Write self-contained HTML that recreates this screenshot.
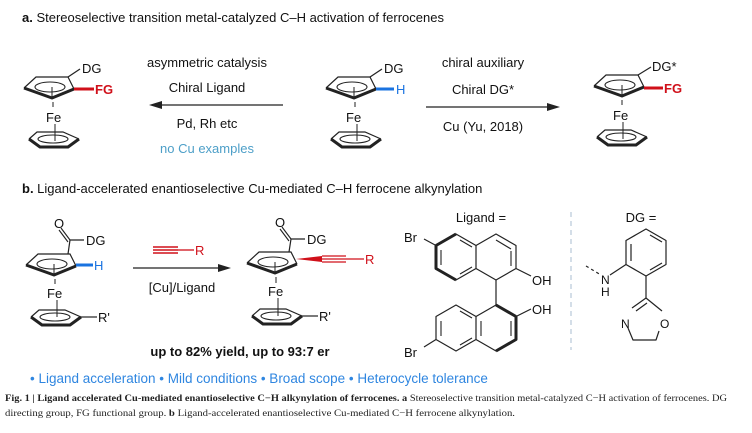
<!DOCTYPE html>
<html><head><meta charset="utf-8"><style>
html,body{margin:0;padding:0;background:#fff;}
svg{display:block;font-family:"Liberation Sans",sans-serif;}
</style></head><body>
<svg width="752" height="433" viewBox="0 0 752 433" xmlns="http://www.w3.org/2000/svg">
<defs>
<g id="cpt" fill="none" stroke="#222">
<path d="M-26,0 L-14,-11 L18,-11 L24,1" stroke-width="1.2"/>
<path d="M-26,0 L2,10 L24,1" stroke-width="3" stroke-linejoin="round"/>
<ellipse cx="0" cy="-1" rx="15" ry="5" stroke-width="1.1"/>
<path d="M2,-1 V9" stroke-width="1"/>
</g>
<g id="cpb" fill="none" stroke="#222">
<path d="M-21,0 L-13,-7 L13,-7 L29,0" stroke-width="1.2"/>
<path d="M-21,0 L-10,8 L18,8 L29,0" stroke-width="3" stroke-linejoin="round"/>
<ellipse cx="3" cy="0" rx="15" ry="4" stroke-width="1.1"/>
</g>
</defs>

<text x="22" y="22" font-size="13" fill="#111"><tspan font-weight="bold">a.</tspan> Stereoselective transition metal-catalyzed C–H activation of ferrocenes</text>

<!-- left ferrocene -->
<use href="#cpt" x="50" y="88"/>
<path d="M68,77 L80,69" stroke="#222" stroke-width="1.2"/>
<text x="82" y="73" font-size="13" fill="#111">DG</text>
<path d="M74,89 L94,89" stroke="#d0101a" stroke-width="3"/>
<text x="95" y="94" font-size="13" fill="#d0101a" font-weight="bold">FG</text>
<path d="M53,102 V107" stroke="#222"/>
<text x="46" y="122" font-size="13" fill="#111">Fe</text>
<path d="M55,124 V141" stroke="#222"/>
<use href="#cpb" x="50" y="139"/>

<!-- left arrow -->
<text x="207" y="67" font-size="13" text-anchor="middle" fill="#111">asymmetric catalysis</text>
<text x="207" y="92" font-size="13" text-anchor="middle" fill="#111">Chiral Ligand</text>
<path d="M283,105 H158" stroke="#222" stroke-width="1.3"/>
<path d="M149,105 L162,101 L162,109 Z" fill="#222"/>
<text x="207" y="128" font-size="13" text-anchor="middle" fill="#111">Pd, Rh etc</text>
<text x="207" y="153" font-size="13" text-anchor="middle" fill="#4d9fc8">no Cu examples</text>

<!-- middle ferrocene -->
<use href="#cpt" x="352" y="88"/>
<path d="M370,77 L382,69" stroke="#222" stroke-width="1.2"/>
<text x="384" y="73" font-size="13" fill="#111">DG</text>
<path d="M376,89 L394,89" stroke="#1a73e0" stroke-width="3"/>
<text x="396" y="94" font-size="13" fill="#1a73e0">H</text>
<path d="M355,102 V107" stroke="#222"/>
<text x="346" y="122" font-size="13" fill="#111">Fe</text>
<path d="M357,124 V141" stroke="#222"/>
<use href="#cpb" x="352" y="139"/>

<!-- right arrow -->
<text x="483" y="67" font-size="13" text-anchor="middle" fill="#111">chiral auxiliary</text>
<text x="483" y="94" font-size="13" text-anchor="middle" fill="#111">Chiral DG*</text>
<path d="M426,107 H550" stroke="#222" stroke-width="1.3"/>
<path d="M560,107 L547,103 L547,111 Z" fill="#222"/>
<text x="483" y="131" font-size="13" text-anchor="middle" fill="#111">Cu (Yu, 2018)</text>

<!-- right ferrocene -->
<use href="#cpt" x="620" y="86"/>
<path d="M638,75 L651,67" stroke="#222" stroke-width="1.2"/>
<text x="652" y="71" font-size="13" fill="#111">DG*</text>
<path d="M644,88 L663,88" stroke="#d0101a" stroke-width="3"/>
<text x="664" y="93" font-size="13" fill="#d0101a" font-weight="bold">FG</text>
<path d="M622,100 V105" stroke="#222"/>
<text x="613" y="120" font-size="13" fill="#111">Fe</text>
<path d="M623,122 V139" stroke="#222"/>
<use href="#cpb" x="618" y="137"/>

<text x="22" y="193" font-size="13" fill="#111"><tspan font-weight="bold">b.</tspan> Ligand-accelerated enantioselective Cu-mediated C–H ferrocene alkynylation</text>

<!-- b left ferrocene -->
<use href="#cpt" x="52" y="265"/>
<path d="M68,254 L70,240 L84,240" fill="none" stroke="#222" stroke-width="1.2"/>
<path d="M70,240 L61,228 M68,242 L59,230" stroke="#222" stroke-width="1.1"/>
<text x="54" y="228" font-size="13" fill="#111">O</text>
<text x="86" y="245" font-size="13" fill="#111">DG</text>
<path d="M76,265 L93,265" stroke="#1a73e0" stroke-width="3"/>
<text x="94" y="270" font-size="13" fill="#1a73e0">H</text>
<path d="M55,279 V284" stroke="#222"/>
<text x="47" y="298" font-size="13" fill="#111">Fe</text>
<path d="M57,300 V317" stroke="#222"/>
<use href="#cpb" x="52" y="317"/>
<path d="M81,317 H97" stroke="#222" stroke-width="1.2"/>
<text x="98" y="322" font-size="13" fill="#111">R'</text>

<!-- b arrow -->
<path d="M153,247 H178 M153,250 H178 M153,253 H178" stroke="#d0101a" stroke-width="1.4"/>
<path d="M178,250 H194" stroke="#d0101a" stroke-width="1.3"/>
<text x="195" y="255" font-size="13" fill="#d0101a">R</text>
<path d="M133,268 H222" stroke="#222" stroke-width="1.3"/>
<path d="M231,268 L218,264 L218,272 Z" fill="#222"/>
<text x="182" y="292" font-size="13" text-anchor="middle" fill="#111">[Cu]/Ligand</text>

<!-- b product -->
<use href="#cpt" x="273" y="263"/>
<path d="M289,252 L291,239 L305,239" fill="none" stroke="#222" stroke-width="1.2"/>
<path d="M291,239 L282,227 M289,241 L280,229" stroke="#222" stroke-width="1.1"/>
<text x="275" y="227" font-size="13" fill="#111">O</text>
<text x="307" y="244" font-size="13" fill="#111">DG</text>
<path d="M296,259 L322,256 L322,262 Z" fill="#d0101a"/>
<path d="M322,256 H346 M322,259 H346 M322,262 H346" stroke="#d0101a" stroke-width="1.3"/>
<path d="M346,259 H364" stroke="#d0101a" stroke-width="1.3"/>
<text x="365" y="264" font-size="13" fill="#d0101a">R</text>
<path d="M276,277 V283" stroke="#222"/>
<text x="268" y="296" font-size="13" fill="#111">Fe</text>
<path d="M278,298 V316" stroke="#222"/>
<use href="#cpb" x="273" y="316"/>
<path d="M302,316 H318" stroke="#222" stroke-width="1.2"/>
<text x="319" y="321" font-size="13" fill="#111">R'</text>

<text x="240" y="356" font-size="13" font-weight="bold" text-anchor="middle" fill="#111">up to 82% yield, up to 93:7 er</text>

<!-- ligand -->
<text x="481" y="222" font-size="13" text-anchor="middle" fill="#111">Ligand =</text>
<g fill="none" stroke="#222" stroke-width="1.2" stroke-linejoin="round">
 <path d="M456,234 L476,245.5 L476,268.5 L456,280 L436,268.5 L436,245.5 Z"/>
 <path d="M476,245.5 L496,234 L516,245.5 L516,268.5 L496,280 L476,268.5"/>
 <path d="M436,245.5 L456,234 M436,245.5 L436,268.5 L456,280" stroke-width="3"/>
 <path d="M441,250 V265 M460,240 L472,247 M460,274 L472,267 M496,240 L511,249 M511,251 V266" stroke-width="1.1"/>
 <path d="M436,245.5 L424,239" />
 <path d="M516,268.5 L531,276"/>
 <path d="M496,280 V305"/>
 <path d="M456,305 L476,316.5 L476,339.5 L456,351 L436,339.5 L436,316.5 Z"/>
 <path d="M476,316.5 L496,305 L516,316.5 L516,339.5 L496,351 L476,339.5"/>
 <path d="M496,305 L516,316.5 M516,316.5 L516,339.5 L496,351" stroke-width="3"/>
 <path d="M441,321 V336 M460,311 L472,318 M460,345 L472,338 M481,321 V336 M511,321 V336" stroke-width="1.1"/>
 <path d="M436,339.5 L424,347"/>
 <path d="M516,316.5 L531,309"/>
</g>
<text x="404" y="242" font-size="13" fill="#111">Br</text>
<text x="532" y="285" font-size="13" fill="#111">OH</text>
<text x="532" y="314" font-size="13" fill="#111">OH</text>
<text x="404" y="357" font-size="13" fill="#111">Br</text>

<path d="M571,212 V350" stroke="#b8c8d8" stroke-width="1.2" stroke-dasharray="5,4"/>

<!-- DG -->
<text x="641" y="222" font-size="13" text-anchor="middle" fill="#111">DG =</text>
<g fill="none" stroke="#222" stroke-width="1.2" stroke-linejoin="round">
 <path d="M646,229 L666,240.5 L666,264.5 L646,276 L626,264.5 L626,240.5 Z"/>
 <path d="M631,244 V261 M650,235 L662,242 M650,270 L662,263"/>
 <path d="M626,264.5 L610,275"/>
 <path d="M586,266 L601,275" stroke-dasharray="3,3"/>
 <path d="M646,276 V298"/>
 <path d="M646,298 L662,311 M659,331 L656,340 L633,340 L628,328 M632,308 L646,298 M636,311 L647,303"/>
</g>
<text x="601" y="284" font-size="12" fill="#111">N</text>
<text x="601" y="296" font-size="12" fill="#111">H</text>
<text x="621" y="328" font-size="12" fill="#111">N</text>
<text x="660" y="328" font-size="12" fill="#111">O</text>

<text x="30" y="383" font-size="13.5" fill="#2f86e0">• Ligand acceleration • Mild conditions • Broad scope •  Heterocycle tolerance</text>
<text x="5" y="401" font-size="9.5" font-family="Liberation Serif, serif" fill="#222" textLength="722" lengthAdjust="spacingAndGlyphs"><tspan font-weight="bold">Fig. 1 | Ligand accelerated Cu-mediated enantioselective C−H alkynylation of ferrocenes. a</tspan> Stereoselective transition metal-catalyzed C−H activation of ferrocenes. DG</text>
<text x="5" y="416" font-size="9.5" font-family="Liberation Serif, serif" fill="#222" textLength="510" lengthAdjust="spacingAndGlyphs">directing group, FG functional group. <tspan font-weight="bold">b</tspan> Ligand-accelerated enantioselective Cu-mediated C−H ferrocene alkynylation.</text>
</svg>
</body></html>
